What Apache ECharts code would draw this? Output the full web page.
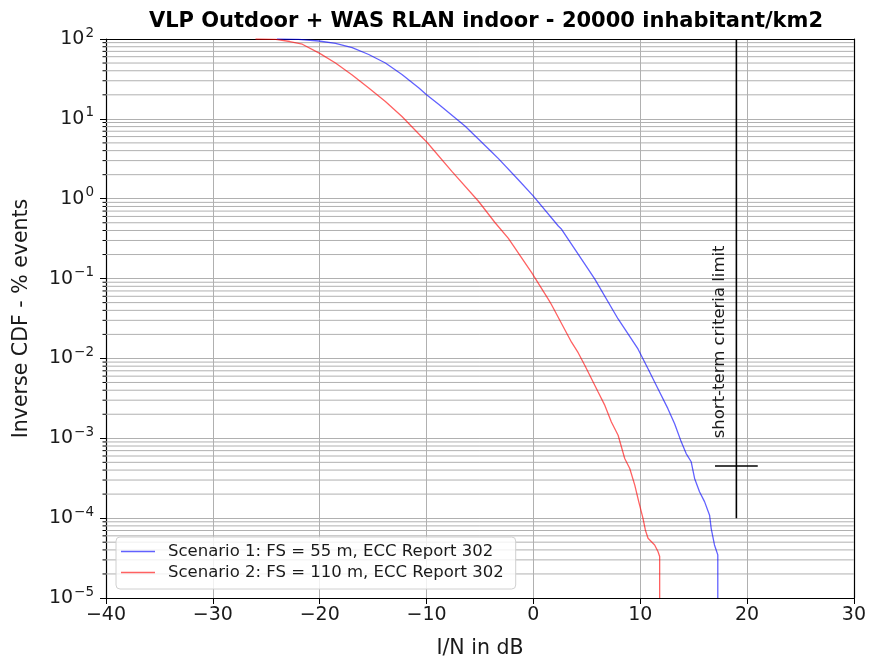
<!DOCTYPE html>
<html>
<head>
<meta charset="utf-8">
<script src="https://cdn.jsdelivr.net/npm/echarts@6/dist/echarts.min.js"></script>
<style>
  html, body { margin: 0; padding: 0; background: #fff; }
  #chart { width: 869px; height: 664px; }
</style>
</head>
<body>
<div id="chart"></div>
<script>
// Inverse CDF of I/N, two fixed-service scenarios
var chartTitle = 'VLP Outdoor + WAS RLAN indoor - 20000 inhabitant/km2';
var xLabel = 'I/N in dB';
var yLabel = 'Inverse CDF - % events';
var seriesNames = [
  'Scenario 1: FS = 55 m, ECC Report 302',
  'Scenario 2: FS = 110 m, ECC Report 302'
];

// Scenario 1 (I/N in dB, % of events)
var s1X = [-24, -22, -20.07, -18.52, -16.96, -15.41, -13.85, -12.3, -10.74, -10, -8.87, -7.0,
           -6.38, -3.9, -3.27, -1.41, 0, 2.33, 2.64, 5.13, 5.75, 7.93,
           9.79, 10.73, 11.66, 12.59, 13.22, 13.84, 14.30, 14.77, 15.09, 15.55, 16.02, 16.49,
           16.64, 16.95, 17.26, 17.26];
var s1Y = [100, 99, 94.4, 88.4, 78, 64, 50, 36, 24.5, 20, 15.2, 9.5,
           8.1, 3.85, 3.18, 1.73, 1.077, 0.455, 0.414, 0.131, 0.0984, 0.0312,
           0.01315, 0.00741, 0.00417, 0.00235, 0.00152, 0.000902, 0.000644, 0.000508, 0.000314,
           0.000214, 0.000161, 0.000109, 0.0000747, 0.0000462, 0.0000347, 0.00001];

// Scenario 2 (I/N in dB, % of events)
var s2X = [-26, -24.1, -22.8, -21.63, -20, -18.52, -16.96, -15.41, -13.85, -12.3, -10.74, -9.96,
           -7.63, -5.14, -3.58, -2.34, -0.16, 1.39, 1.70, 3.57, 4.19, 4.82, 5.44, 6.06, 6.69,
           7.30, 7.93, 8.55, 9.02, 9.49, 9.86, 10.26, 10.48, 10.73, 11.35, 11.66, 11.82, 11.82];
var s2Y = [100, 99, 93, 86, 66, 50, 35.5, 24.3, 16.5, 10.7, 6.5, 5.1,
           2.2, 0.93, 0.5, 0.318, 0.119, 0.0553, 0.047, 0.01596, 0.0118, 0.00815, 0.00556,
           0.00379, 0.00258, 0.0016, 0.00109, 0.000558, 0.000419, 0.000259, 0.000161, 0.0000995,
           0.0000711, 0.000056, 0.0000462, 0.0000382, 0.0000331, 0.00001];

// Short-term criteria limit marker
var limitX = [19, 19];
var limitY = [0.0001, 100];
var limitBarX = [17, 21];
var limitBarY = [0.00045, 0.00045];
var limitText = 'short-term criteria limit';
var limitTextPos = [17.4, 0.001];

// Minor positions on the log axis: 2..9 x 10^d
var minorTicks = [];
for (var d = -5; d <= 1; d++) {
  for (var k = 2; k <= 9; k++) minorTicks.push(k * Math.pow(10, d));
}

function pairs(xs, ys) {
  return xs.map(function (x, i) { return [x, ys[i]]; });
}

var FONT = 'DejaVu Sans';
var chart = echarts.init(document.getElementById('chart'));

chart.setOption({
  animation: false,
  textStyle: { fontFamily: FONT },
  title: {
    text: chartTitle,
    left: 481, top: 6, textAlign: 'center',
    textStyle: { fontFamily: FONT, fontSize: 21, fontWeight: 'bold', color: '#000' }
  },
  grid: { left: 106, right: 13, top: 39, bottom: 64, containLabel: false },
  legend: {
    left: 116, top: 537,
    orient: 'vertical',
    padding: [6, 12, 8, 5],
    itemGap: 4,
    itemWidth: 34, itemHeight: 1.4,
    icon: 'rect',
    backgroundColor: 'rgba(255,255,255,0.82)',
    borderColor: '#d0d0d0', borderWidth: 1, borderRadius: 4,
    textStyle: { fontFamily: FONT, fontSize: 16.5, color: '#1a1a1a', lineHeight: 17, padding: [0, 0, 0, 8] },
    data: seriesNames
  },
  xAxis: [{
    type: 'value', min: -40, max: 30, interval: 10,
    name: xLabel, nameLocation: 'middle', nameGap: 40,
    nameTextStyle: { fontFamily: FONT, fontSize: 20.5, color: '#1a1a1a' },
    axisLine: { show: true, onZero: false, lineStyle: { color: '#000', width: 1.2 } },
    axisTick: { show: true, length: 6, inside: false, lineStyle: { color: '#000' } },
    axisLabel: {
      margin: 8, fontFamily: FONT, fontSize: 19, color: '#1a1a1a',
      formatter: function (v) { return v < 0 ? '\u2212' + Math.abs(v) : String(v); }
    },
    splitLine: { show: true, lineStyle: { color: '#b0b0b0', width: 1 } }
  }, {
    type: 'value', min: -40, max: 30, position: 'top',
    axisLine: { show: true, onZero: false, lineStyle: { color: '#000', width: 1.2 } },
    axisTick: { show: false }, axisLabel: { show: false }, splitLine: { show: false }
  }],
  yAxis: [{
    type: 'log', logBase: 10, min: 0.00001, max: 100,
    name: yLabel, nameLocation: 'middle', nameGap: 74, nameRotate: 90,
    nameTextStyle: { fontFamily: FONT, fontSize: 20.5, color: '#1a1a1a' },
    axisLine: { show: true, onZero: false, lineStyle: { color: '#000', width: 1.2 } },
    axisTick: { show: true, length: 6, lineStyle: { color: '#000' } },
    axisLabel: {
      margin: 12,
      formatter: function (v) {
        var e = Math.round(Math.log10(v));
        return '{b|10}{s|' + (e < 0 ? '\u2212' + Math.abs(e) : e) + '}';
      },
      rich: {
        b: { fontFamily: FONT, fontSize: 19, color: '#1a1a1a' },
        s: { fontFamily: FONT, fontSize: 13.5, color: '#1a1a1a', padding: [0, 0, 12, 1] }
      }
    },
    splitLine: { show: true, lineStyle: { color: '#b0b0b0', width: 1 } }
  }, {
    type: 'log', logBase: 10, min: 0.00001, max: 100, position: 'right',
    axisLine: { show: true, onZero: false, lineStyle: { color: '#000', width: 1.2 } },
    axisTick: { show: false }, axisLabel: { show: false }, splitLine: { show: false }
  }],
  series: [
    {
      // minor horizontal grid lines and minor ticks on the log axis
      type: 'custom',
      silent: true,
      z: 1,
      data: minorTicks.map(function (v) { return [-40, v]; }),
      renderItem: function (params, api) {
        var v = api.value(1);
        var p0 = api.coord([-40, v]);
        var p1 = api.coord([30, v]);
        return {
          type: 'group',
          children: [
            { type: 'line', shape: { x1: p0[0], y1: p0[1], x2: p1[0], y2: p1[1] },
              style: { stroke: '#b0b0b0', lineWidth: 1 } },
            { type: 'line', shape: { x1: p0[0] - 3.5, y1: p0[1], x2: p0[0], y2: p0[1] },
              style: { stroke: '#000', lineWidth: 1 } }
          ]
        };
      }
    },
    {
      name: seriesNames[0], type: 'line', data: pairs(s1X, s1Y),
      showSymbol: false, symbol: 'none', smooth: false, z: 3,
      color: 'rgba(0,0,255,0.62)',
      lineStyle: { color: 'rgba(0,0,255,0.62)', width: 1.3 }
    },
    {
      name: seriesNames[1], type: 'line', data: pairs(s2X, s2Y),
      showSymbol: false, symbol: 'none', smooth: false, z: 3,
      color: 'rgba(255,0,0,0.62)',
      lineStyle: { color: 'rgba(255,0,0,0.62)', width: 1.3 }
    },
    {
      type: 'line', data: pairs(limitX, limitY), symbol: 'none', silent: true, z: 4,
      lineStyle: { color: '#000', width: 1.6 }
    },
    {
      type: 'line', data: pairs(limitBarX, limitBarY), symbol: 'none', silent: true, z: 4,
      lineStyle: { color: '#000', width: 1.6 }
    },
    {
      type: 'custom', silent: true, z: 4,
      data: [limitTextPos],
      renderItem: function (params, api) {
        var p = api.coord([api.value(0), api.value(1)]);
        return {
          type: 'text', x: p[0], y: p[1], rotation: Math.PI / 2,
          style: {
            text: limitText, fontFamily: FONT, fontSize: 16.5, fill: '#1a1a1a',
            textAlign: 'left', textVerticalAlign: 'middle'
          }
        };
      }
    }
  ]
});
</script>
</body>
</html>
